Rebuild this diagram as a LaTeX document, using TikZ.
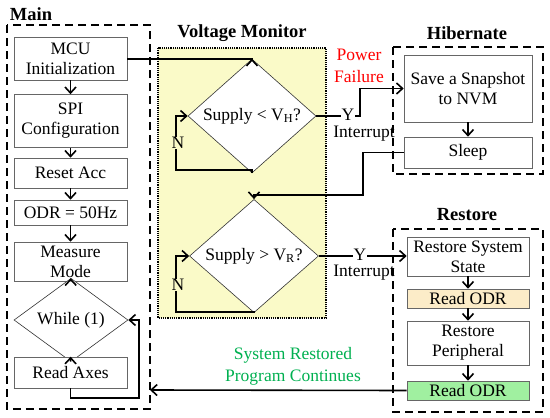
\documentclass[tikz,border=0pt]{standalone}
\usepackage{fontspec}
\setmainfont{Liberation Serif}
\usetikzlibrary{shapes.geometric,arrows.meta}
\definecolor{vmfill}{RGB}{250,250,200}
\definecolor{peach}{RGB}{252,236,200}
\definecolor{lgreen}{RGB}{160,240,160}
\definecolor{tgreen}{RGB}{0,176,80}
\tikzset{
  box/.style={draw=black!60, line width=0.6pt, fill=white, inner sep=0pt, align=center,
    font=\fontsize{17.5}{20}\selectfont},
  dia/.style={diamond, draw=black!80, line width=0.6pt, fill=white, inner sep=0pt, align=center,
    font=\fontsize{17.5}{20}\selectfont},
  conn/.style={line width=1.6pt, -{Straight Barb[length=6pt,width=11pt,line width=1.6pt]}},
  grp/.style={draw=black, line width=1.4pt, dash pattern=on 8pt off 5pt},
  ttl/.style={font=\fontsize{18.5}{22}\selectfont\bfseries},
  lbl/.style={font=\fontsize{17.5}{20}\selectfont, inner sep=0.5pt},
}
\begin{document}
\begin{tikzpicture}[x=1pt,y=-1pt]
\useasboundingbox (0,0) rectangle (550,418);
% group frames
\draw[grp] (7,25) rectangle (150,409);
\coordinate (mainR) at (150,390);
\draw[draw=black, line width=1.2pt, densely dotted, fill=vmfill] (158,48) rectangle (326,318);
\draw[grp] (393,47) rectangle (543,174);
\draw[grp] (393,229) rectangle (543,412);
% titles
\node[ttl] (tmain) at (31,14) {Main};
\node[ttl] (tvm) at (242,33) {Voltage Monitor};
\node[ttl] (thib) at (467,33) {Hibernate};
\node[ttl] (tres) at (467,215) {Restore};
% main column
\node[box, minimum width=113pt, minimum height=43pt] (mcu) at (70.5,58.5) {MCU\\Initialization};
\node[box, minimum width=113pt, minimum height=53pt] (spi) at (70.5,121) {SPI\\Configuration};
\node[box, minimum width=113pt, minimum height=30pt] (rst) at (70.5,173) {Reset Acc};
\node[box, minimum width=113pt, minimum height=25pt] (odr) at (70.5,212.5) {ODR = 50Hz};
\node[box, minimum width=113pt, minimum height=39pt] (mm) at (70.5,261.5) {Measure\\Mode};
\node[dia, minimum width=114pt, minimum height=50pt] (wh) at (71,320) {While (1)};
\node[box, minimum width=113pt, minimum height=31pt] (ra) at (70.5,372.5) {Read Axes};
\draw[conn] (mcu) -- (spi);
\draw[conn] (spi) -- (rst);
\draw[conn] (rst) -- (odr);
\draw[conn] (odr) -- (mm);
\draw[conn] (mm) -- (wh);
\draw[conn] (wh) -- (ra);
\coordinate (lp) at (139,398);
\draw[conn] (ra.south) |- (lp) |- (wh.east);
% voltage monitor
\node[dia, minimum width=128pt, minimum height=86pt] (d1) at (252,116) {Supply \textless{} V\textsubscript{H}?};
\node[dia, minimum width=129pt, minimum height=88pt] (d2) at (254,256) {Supply \textgreater{} V\textsubscript{R}?};
\draw[conn] (mcu.east |- 0,59) -| (d1.north);
\coordinate (n1) at (176,170);
\draw[conn] (d1.south) |- (n1) |- (d1.west);
\node[lbl, fill=vmfill] (N1) at (178,143) {N};
\coordinate (n2) at (176,312);
\draw[conn] (d2.south) |- (n2) |- (d2.west);
\node[lbl, fill=vmfill] (N2) at (178,285) {N};
% hibernate
\node[box, minimum width=128pt, minimum height=67pt] (save) at (468,88.5) {Save a Snapshot\\to NVM};
\node[box, minimum width=128pt, minimum height=31pt] (sleep) at (468,152.5) {Sleep};
\draw[conn] (save) -- (sleep);
\coordinate (y1) at (360,116);
\draw[conn] (d1.east) -- (y1) |- (save.west);
\node[lbl, fill=white] (Y1) at (348,115) {Y};
\node[lbl] (I1) at (364,134) {Interrupt};
\node[lbl, text=red, align=center, font=\fontsize{17.5}{22}\selectfont] (pf) at (359,66) {Power\\Failure};
\coordinate (s1) at (363,195);
\draw[conn] (sleep.west) -| (s1) -| (d2.north);
% restore
\node[box, minimum width=122pt, minimum height=39pt] (rss) at (468,256.5) {Restore System\\State};
\node[box, minimum width=122pt, minimum height=19pt, fill=peach] (odr1) at (468,298.5) {Read ODR};
\node[box, minimum width=122pt, minimum height=44pt] (rp) at (468,343) {Restore\\Peripheral};
\node[box, minimum width=122pt, minimum height=19pt, fill=lgreen] (odr2) at (468,390.5) {Read ODR};
\draw[conn] (rss) -- (odr1);
\draw[conn] (odr1) -- (rp);
\draw[conn] (rp) -- (odr2);
\draw[conn] (d2.east) -- (rss.west |- d2.east);
\node[lbl, fill=white] (Y2) at (360,255) {Y};
\node[lbl] (I2) at (364,273) {Interrupt};
\draw[conn] (odr2.west) -- (mainR);
\node[lbl, text=tgreen, align=center, font=\fontsize{17.5}{22}\selectfont] (sr) at (293,366) {System Restored\\Program Continues};
\end{tikzpicture}
\end{document}
